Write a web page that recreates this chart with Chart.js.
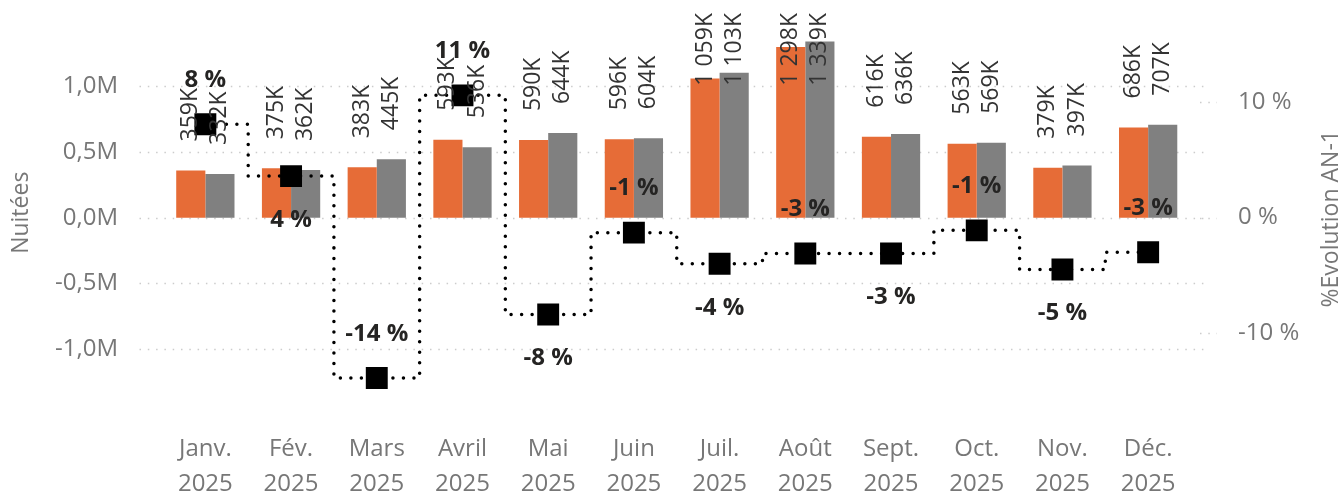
<!DOCTYPE html>
<html><head><meta charset="utf-8">
<script src="https://cdn.jsdelivr.net/npm/chart.js@4"></script>
<style>html,body{margin:0;padding:0;background:#fff}#wrap{width:1341px;height:497px;position:relative}</style>
</head><body><div id="wrap"><canvas id="c"></canvas></div>
<script>
const months = [['Janv.','2025'],['Fév.','2025'],['Mars','2025'],['Avril','2025'],['Mai','2025'],['Juin','2025'],['Juil.','2025'],['Août','2025'],['Sept.','2025'],['Oct.','2025'],['Nov.','2025'],['Déc.','2025']];
const nuitees2025 = [359000,375000,383000,593000,590000,596000,1059000,1298000,616000,563000,379000,686000];
const nuitees2024 = [332000,362000,445000,536000,644000,604000,1103000,1339000,636000,569000,397000,707000];
const evolutionPct = [8.1,3.6,-13.9,10.6,-8.4,-1.3,-4.0,-3.1,-3.1,-1.1,-4.5,-3.0];
const leftTicks = [-1000000,-500000,0,500000,1000000];
const rightTicks = [-10,0,10];
const pctLabelSide = ['above','below','above','above','below','above','below','above','below','above','below','above'];

const FONT = '"Open Sans", "Noto Sans", sans-serif';
Chart.defaults.font.family = FONT;

function fmtM(v){ return (v/1e6).toFixed(1).replace('.',',')+'M'; }
function fmtK(v){ const k=Math.round(v/1000); return String(k).replace(/\B(?=(\d{3})+(?!\d))/g,' ')+'K'; }
function fmtPct(v){ const r=Math.sign(v)*Math.round(Math.abs(v)); return r+' %'; }

const decor = {
  id:'decor',
  beforeDatasetsDraw(chart){
    const {ctx, chartArea:a, scales:{y, y1}} = chart;
    ctx.save();
    ctx.strokeStyle='#cccccc'; ctx.lineWidth=1.5; ctx.setLineDash([1.5,6.8]);
    leftTicks.forEach(t=>{
      const py=Math.round(y.getPixelForValue(t))+0.5;
      ctx.beginPath(); ctx.moveTo(a.left-23,py); ctx.lineTo(a.right+14,py); ctx.stroke();
    });
    rightTicks.forEach(t=>{
      const py=Math.round(y1.getPixelForValue(t))+0.5;
      ctx.beginPath(); ctx.moveTo(a.right+9,py); ctx.lineTo(a.right+26,py); ctx.stroke();
    });
    ctx.restore();
  },
  afterDatasetsDraw(chart){
    const {ctx, chartArea:a} = chart;
    ctx.save();
    ctx.font='23px '+FONT; ctx.fillStyle='#333333';
    [0,1].forEach(di=>{
      const meta=chart.getDatasetMeta(di);
      meta.data.forEach((bar,i)=>{
        const txt=fmtK(chart.data.datasets[di].data[i]);
        const w=ctx.measureText(txt).width;
        let start=bar.y-29;
        if(start-w<13) start=13+w;
        ctx.save(); ctx.translate(bar.x,start); ctx.rotate(-Math.PI/2);
        ctx.textAlign='left'; ctx.textBaseline='middle'; ctx.fillText(txt,0,0); ctx.restore();
      });
    });
    const lm=chart.getDatasetMeta(2);
    ctx.font='bold 24px '+FONT; ctx.fillStyle='#252423'; ctx.textAlign='center'; ctx.textBaseline='middle';
    lm.data.forEach((pt,i)=>{
      const dy=pctLabelSide[i]==='above'?-44:44;
      ctx.fillText(fmtPct(evolutionPct[i]),pt.x,pt.y+dy);
    });
    ctx.font='23px '+FONT; ctx.fillStyle='#777777';
    ctx.translate(chart.width-10,(a.top+a.bottom)/2+6); ctx.rotate(-Math.PI/2);
    ctx.textAlign='center'; ctx.textBaseline='middle'; ctx.fillText('%Evolution AN-1',0,0);
    ctx.restore();
  }
};

function fixV(w){ return s=>{ s.width=w; s.paddingTop=0; s.paddingBottom=0; }; }

new Chart(document.getElementById('c'),{
  data:{
    labels:months,
    datasets:[
      {type:'bar',label:'2025',data:nuitees2025,backgroundColor:'#E66C37',yAxisID:'y',order:1,categoryPercentage:0.68,barPercentage:1},
      {type:'bar',label:'2024',data:nuitees2024,backgroundColor:'#808080',yAxisID:'y',order:1,categoryPercentage:0.68,barPercentage:1},
      {type:'line',label:'%Evolution AN-1',data:evolutionPct,yAxisID:'y1',order:0,
       borderColor:'#000',borderWidth:3.5,borderDash:[0.01,10.5],borderCapStyle:'round',stepped:'middle',
       pointStyle:'rect',pointRadius:15.5,pointHoverRadius:15.5,pointBackgroundColor:'#000',pointBorderWidth:0,fill:false}
    ]
  },
  options:{
    responsive:true,maintainAspectRatio:false,animation:false,
    layout:{padding:{top:10,left:0,right:0,bottom:0}},
    plugins:{legend:{display:false},tooltip:{enabled:false}},
    scales:{
      x:{grid:{display:false,drawTicks:false},border:{display:false},
         ticks:{autoSkip:false,maxRotation:0,color:'#777',padding:22,font:{size:24,lineHeight:1.46}},
         afterFit(s){s.height=87; s.paddingLeft=0; s.paddingRight=0;}},
      y:{position:'left',min:-1462500,max:1537500,bounds:'data',
         grid:{display:false,drawTicks:false},border:{display:false},
         ticks:{color:'#777',padding:44.5,font:{size:24},callback:v=>fmtM(v)},
         afterBuildTicks(s){s.ticks=leftTicks.map(v=>({value:v}));},
         title:{display:true,text:'Nuitées',color:'#777',font:{size:23},padding:{top:8,bottom:0}},
         afterFit:fixV(162.5)},
      y1:{position:'right',min:-16.67,max:17.52,bounds:'data',
         grid:{display:false,drawTicks:false},border:{display:false},
         ticks:{color:'#777',padding:47,font:{size:24},callback:v=>v+' %'},
         afterBuildTicks(s){s.ticks=rightTicks.map(v=>({value:v}));},
         afterFit:fixV(150)}
    }
  },
  plugins:[decor]
});
</script></body></html>
